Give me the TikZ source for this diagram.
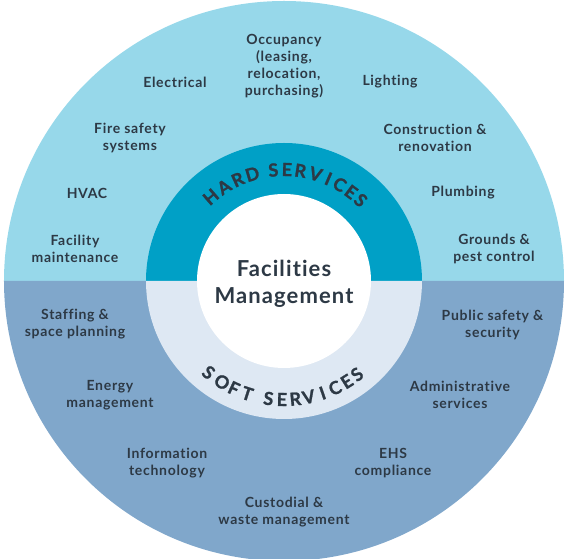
\documentclass[tikz,border=0pt]{standalone}
\usepackage{fontspec}
\setmainfont{Lato}[LetterSpace=5, Ligatures={NoCommon}]
\definecolor{hardout}{HTML}{97D8EA}
\definecolor{hardring}{HTML}{00A0C6}
\definecolor{softout}{HTML}{80A7CB}
\definecolor{softring}{HTML}{DEE8F3}
\definecolor{ink}{HTML}{2D3945}
\tikzset{
  item/.style={text=ink, align=center, inner sep=0pt, font=\fontsize{14}{17}\selectfont\bfseries},
  arcletter/.style={text=ink, inner sep=0pt, font=\fontsize{18}{18}\selectfont\bfseries\addfontfeature{FakeBold=1.2}},
}
\begin{document}
\begin{tikzpicture}[x=1pt, y=1pt]
\useasboundingbox (-284,-278) rectangle (284,281);

% outer halves
\fill[hardout] (0:280) arc (0:180:280) -- cycle;
\fill[softout] (180:280) arc (180:360:280) -- cycle;
% rings
\fill[hardring] (0:138) arc (0:180:138) -- cycle;
\fill[softring] (180:138) arc (180:360:138) -- cycle;
\fill[white] (0,0) circle (87);

\node[text=ink, align=center, inner sep=0pt, font=\fontsize{22}{27}\selectfont\bfseries] (fm) at (0,-2.5) {Facilities\\Management};

% ring titles
\foreach \ch/\ang [count=\i] in {H/131, A/122.5, R/114.5, D/106.5, S/95.5, E/88.5, R/81.5, V/73.5, I/66.5, C/60, E/53, S/46.5}
  \node[arcletter, rotate=\ang-90] (hard\i) at (\ang:111.5) {\ch};
\foreach \ch/\ang [count=\i] in {S/230.5, O/238.5, F/245, T/252, S/262.5, E/269, R/275.5, V/282, I/289, C/295.5, E/302, S/308}
  \node[arcletter, rotate=\ang-270] (soft\i) at (\ang:118.5) {\ch};

% hard services
\node[item] (occ) at (0,215) {Occupancy\\(leasing,\\relocation,\\purchasing)};
\node[item] (elec) at (-109,199) {Electrical};
\node[item] (light) at (106,199) {Lighting};
\node[item] (fire) at (-154,143.5) {Fire safety\\systems};
\node[item] (constr) at (151,143.5) {Construction \&\\renovation};
\node[item] (hvac) at (-197,88) {HVAC};
\node[item] (plumb) at (179,88) {Plumbing};
\node[item] (facil) at (-209,32.5) {Facility\\maintenance};
\node[item] (grounds) at (210,32.5) {Grounds \&\\pest control};

% soft services
\node[item] (staff) at (-209,-43.5) {Staffing \&\\space planning};
\node[item] (public) at (208.5,-43.5) {Public safety \&\\security};
\node[item] (energy) at (-174,-114) {Energy\\management};
\node[item] (admin) at (176,-114) {Administrative\\services};
\node[item] (info) at (-117,-182.5) {Information\\technology};
\node[item] (ehs) at (109,-182.5) {EHS\\compliance};
\node[item] (cust) at (0,-231.5) {Custodial \&\\waste management};
\end{tikzpicture}
\end{document}
